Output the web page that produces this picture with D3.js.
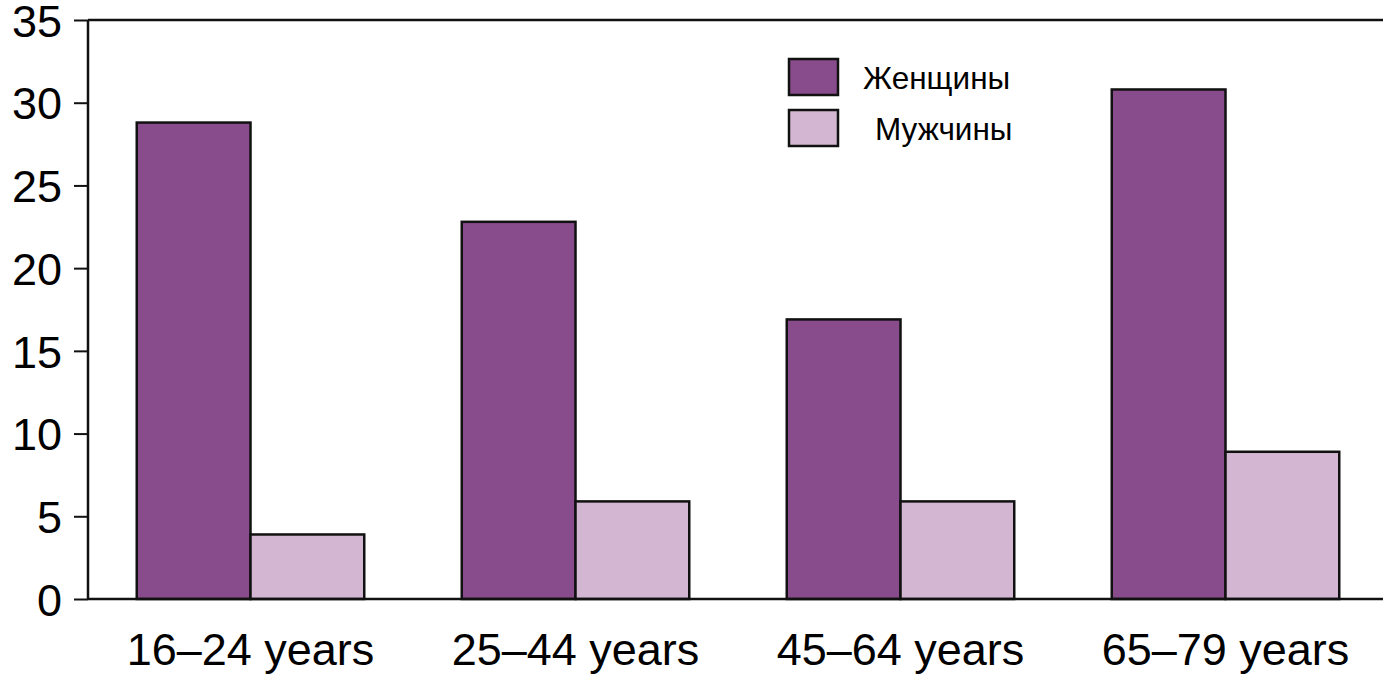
<!DOCTYPE html>
<html><head><meta charset="utf-8">
<script src="https://cdn.jsdelivr.net/npm/d3@7"></script>
<style>body{margin:0;background:#fff;}svg{display:block;font-family:"Liberation Sans",Arial,sans-serif;}</style>
</head><body><svg id="c" width="1383" height="675"></svg>
<script>
const categories = ["16–24 years","25–44 years","45–64 years","65–79 years"];
const seriesNames = ["Женщины","Мужчины"];
const women = [28.8, 22.8, 16.9, 30.8];
const men = [3.9, 5.9, 5.9, 8.9];
const yTicks = [0,5,10,15,20,25,30,35];
const colors = ["#884b8b","#d3b6d1"];

const svg = d3.select("#c");
const x0 = 88, x1 = 1388, yTop = 20, yBot = 599;
const x = d3.scaleBand().domain(categories).range([x0, x1]).paddingInner(0.3).paddingOuter(0.15);
const xs = d3.scaleBand().domain(seriesNames).range([0, x.bandwidth()]);
const y = d3.scaleLinear().domain([0,35]).range([yBot, yTop]);

const data = categories.map((c,i)=>({cat:c, vals:[women[i], men[i]]}));
const g = svg.append("g");
g.selectAll("g.grp").data(data).join("g").attr("class","grp")
  .attr("transform", d=>`translate(${x(d.cat)},0)`)
  .selectAll("rect").data(d=>d.vals.map((v,j)=>({v, s:seriesNames[j], j})))
  .join("rect")
  .attr("x", d=>xs(d.s)).attr("width", xs.bandwidth())
  .attr("y", d=>y(d.v)).attr("height", d=>y(0)-y(d.v))
  .attr("fill", d=>colors[d.j]).attr("stroke","#111").attr("stroke-width",2.5);

// y axis
const yAxis = d3.axisLeft(y).tickValues(yTicks).tickSize(14).tickPadding(12);
const ya = svg.append("g").attr("transform",`translate(${x0},0)`).call(yAxis);
ya.select(".domain").remove();
ya.selectAll(".tick line").attr("stroke","#111").attr("stroke-width",2);
ya.selectAll(".tick text").attr("font-size",45).attr("fill","#000").attr("font-family","Liberation Sans, Arial, sans-serif").attr("dy","0.36em");

// x axis labels
const xAxis = d3.axisBottom(x).tickSize(0).tickPadding(34);
const xa = svg.append("g").attr("transform",`translate(0,${yBot})`).call(xAxis);
xa.select(".domain").remove();
xa.selectAll(".tick text").attr("font-size",45).attr("fill","#000").attr("font-family","Liberation Sans, Arial, sans-serif");

// frame lines
svg.append("line").attr("x1",x0).attr("x2",1383).attr("y1",yBot).attr("y2",yBot).attr("stroke","#111").attr("stroke-width",2.5);
svg.append("line").attr("x1",x0).attr("x2",1383).attr("y1",yTop).attr("y2",yTop).attr("stroke","#111").attr("stroke-width",2.5);
svg.append("line").attr("x1",x0).attr("x2",x0).attr("y1",yTop).attr("y2",yBot).attr("stroke","#111").attr("stroke-width",2.5);

// legend
const leg = svg.append("g").attr("transform","translate(789,59)");
const li = leg.selectAll("g").data(seriesNames).join("g").attr("transform",(d,i)=>`translate(0,${i*51})`);
li.append("rect").attr("width",49).attr("height",36).attr("fill",(d,i)=>colors[i]).attr("stroke","#111").attr("stroke-width",2.5);
li.append("text").attr("x",(d,i)=> i===0?74:86).attr("y",30).attr("font-size",31.5).attr("fill","#000").text(d=>d);
</script></body></html>
